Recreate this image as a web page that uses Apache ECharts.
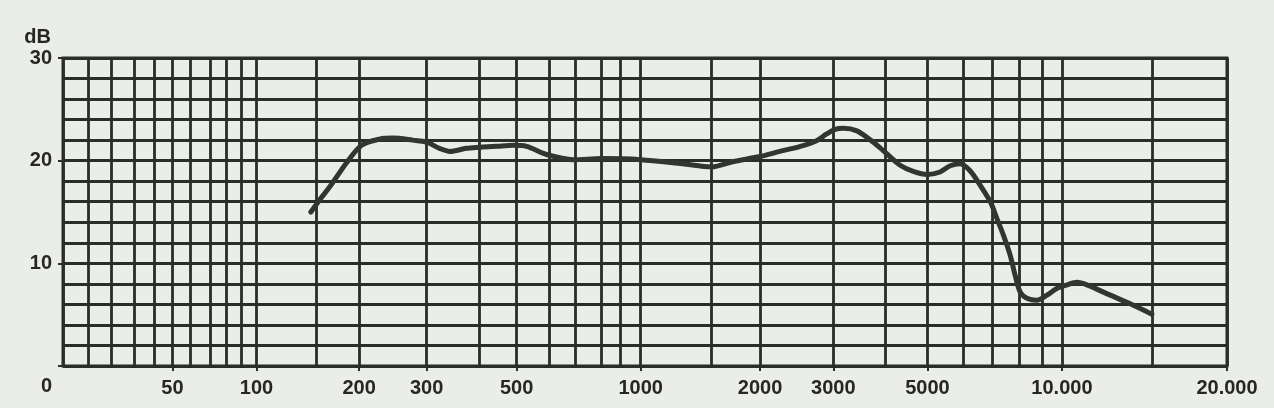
<!DOCTYPE html>
<html>
<head>
<meta charset="utf-8">
<script src="https://cdn.jsdelivr.net/npm/echarts@6/dist/echarts.min.js"></script>
<style>
html,body{margin:0;padding:0;background:#ebedea;}
#chart{width:1274px;height:408px;}
</style>
</head>
<body>
<div id="chart"></div>
<script>
// ---- data (frequency in Hz, level in dB) ----
const FREQ = [145, 154, 165, 184, 203, 226, 245, 276, 300, 322, 341, 373, 400, 444, 490, 529, 592, 694, 800, 1000,
  1270, 1500, 1700, 2000, 2230, 2500, 2735, 2890, 3030, 3170, 3420, 3690, 3890, 4040, 4330, 4640, 5000, 5330, 5610,
  5900, 6220, 6560, 6920, 7150, 7390, 7640, 7830, 8030, 8310, 8740, 9220, 9720, 10230, 10700, 11190, 12430, 13400, 15000];
const DB = [15.0, 16.2, 17.5, 19.8, 21.5, 22.1, 22.2, 22.0, 21.8, 21.2, 20.9, 21.2, 21.3, 21.4, 21.5, 21.4, 20.6, 20.1, 20.2, 20.1,
  19.7, 19.4, 19.9, 20.4, 20.9, 21.4, 21.95, 22.6, 23.05, 23.15, 22.9, 22.0, 21.25, 20.65, 19.55, 18.95, 18.65, 18.9, 19.5,
  19.7, 19.0, 17.6, 16.0, 14.4, 12.75, 10.8, 8.85, 7.2, 6.6, 6.4, 6.9, 7.55, 7.9, 8.15, 7.9, 6.9, 6.2, 5.05];

// ---- tick labels ----
const X_LABEL_FREQ = [50, 100, 200, 300, 500, 1000, 2000, 3000, 5000, 10000, 20000];
const X_LABEL_TEXT = ['50', '100', '200', '300', '500', '1000', '2000', '3000', '5000', '10.000', '20.000'];
const Y_LABELS = [0, 10, 20, 30];

// ---- the chart paper's own (non-uniform, log-like) frequency scale:
// gridline frequencies and their relative place along the axis (0..1)
const SCALE_FREQ = [20, 25, 30, 35, 40, 50, 60, 70, 80, 90, 100, 150, 200, 300, 400, 500, 600, 700, 800, 900, 1000,
  1500, 2000, 3000, 4000, 5000, 6000, 7000, 8000, 9000, 10000, 15000, 20000];
const SCALE_UNIT = [0, 0.0215, 0.0416, 0.0608, 0.0780, 0.0940, 0.1095, 0.1267, 0.1404, 0.1530, 0.1662, 0.2172, 0.2544,
  0.3124, 0.3573, 0.3897, 0.4175, 0.4398, 0.4622, 0.4791, 0.4963, 0.5573, 0.5988, 0.6618, 0.7063, 0.7426, 0.7736,
  0.7985, 0.8217, 0.8415, 0.8582, 0.9355, 1];

function freqScale(f) {
  const n = SCALE_FREQ.length;
  if (f <= SCALE_FREQ[0]) return SCALE_UNIT[0];
  if (f >= SCALE_FREQ[n - 1]) return SCALE_UNIT[n - 1];
  for (let i = 0; i < n - 1; i++) {
    const a = SCALE_FREQ[i], b = SCALE_FREQ[i + 1];
    if (f >= a && f <= b) {
      const t = Math.log(f / a) / Math.log(b / a);
      return SCALE_UNIT[i] + t * (SCALE_UNIT[i + 1] - SCALE_UNIT[i]);
    }
  }
  return 1;
}

const GRID_X = SCALE_FREQ.map(freqScale);
const LABEL_X = X_LABEL_FREQ.map(freqScale);

const INK = '#2b2d2a';
const FONT = { fontFamily: '"Liberation Sans", Arial, sans-serif', fontWeight: 'bold', fontSize: 20, color: '#262725' };

const chart = echarts.init(document.getElementById('chart'), null, { renderer: 'canvas' });
chart.setOption({
  backgroundColor: '#ebedea',
  animation: false,
  grid: { left: 63, right: 47, top: 58, bottom: 42, show: true, borderColor: INK, borderWidth: 3, backgroundColor: 'transparent' },
  xAxis: [
    {
      type: 'value', min: 0, max: 1, position: 'bottom',
      axisLine: { show: false },
      axisTick: { show: false, customValues: GRID_X },
      axisLabel: { show: false },
      splitLine: { show: true, lineStyle: { color: INK, width: 2.8 } }
    },
    {
      type: 'value', min: 0, max: 1, position: 'bottom',
      axisLine: { show: false },
      axisTick: { show: true, customValues: LABEL_X, length: 5, lineStyle: { color: INK, width: 2 } },
      axisLabel: {
        show: true, customValues: LABEL_X, margin: 12, ...FONT,
        formatter: function (v) {
          let best = 0, d = Infinity;
          LABEL_X.forEach((x, i) => { if (Math.abs(x - v) < d) { d = Math.abs(x - v); best = i; } });
          return X_LABEL_TEXT[best];
        }
      },
      splitLine: { show: false }
    }
  ],
  yAxis: [
    {
      type: 'value', min: 0, max: 30, interval: 2, position: 'left',
      axisLine: { show: false }, axisTick: { show: false }, axisLabel: { show: false },
      splitLine: { show: true, lineStyle: { color: INK, width: 2.8 } }
    },
    {
      type: 'value', min: 0, max: 30, interval: 10, position: 'left',
      name: 'dB', nameLocation: 'end', nameGap: 11,
      nameTextStyle: { ...FONT, align: 'right', padding: [0, 12, 0, 0] },
      axisLine: { show: false },
      axisTick: { show: true, length: 5, lineStyle: { color: INK, width: 2 } },
      axisLabel: {
        show: true, margin: 11, ...FONT,
        formatter: function (v) { return Y_LABELS.indexOf(v) < 0 ? '' : (v === 0 ? '{lo|0}' : String(v)); },
        rich: { lo: { ...FONT, padding: [40, 0, 0, 0] } }
      },
      splitLine: { show: false }
    }
  ],
  series: [
    {
      type: 'line', xAxisIndex: 0, yAxisIndex: 0,
      data: FREQ.map((f, i) => [freqScale(f), DB[i]]),
      showSymbol: false, smooth: 0.3,
      lineStyle: { color: '#333532', width: 5, cap: 'round', join: 'round' }
    }
  ]
});
</script>
</body>
</html>
